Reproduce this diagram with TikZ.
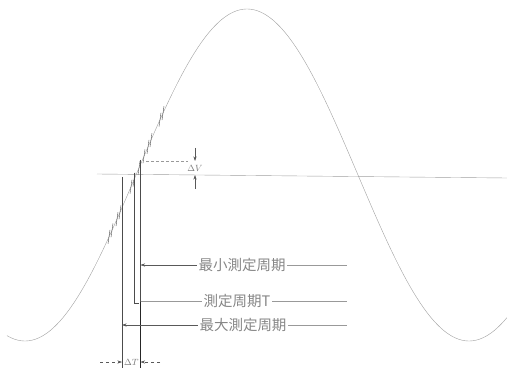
\documentclass[tikz,border=0pt]{standalone}
\usepackage{fontspec}
\newfontfamily\jpfont{Noto Sans CJK JP}
\usetikzlibrary{arrows.meta}
\tikzset{
  wave/.style={gray!75,thin},                                  % measured signal
  zeroln/.style={gray!75,thin},                                % zero level
  vline/.style={black!70,semithick},                           % period marks
  lead/.style={gray!80,thin},
  leadarr/.style={-{Stealth[length=4.5pt,width=3pt]},gray!70!black,thin},
  hatch/.style={black!70,thin},
  lbl/.style={text=gray!95,font=\jpfont\fontsize{14.5}{16}\selectfont,inner sep=1.5pt},
  dimlbl/.style={text=gray!95!black,font=\fontsize{9.5}{10}\selectfont,inner sep=0.5pt},
}

\begin{document}
\begin{tikzpicture}[x=1pt,y=-1pt,declare function={wv(\t)=175-166*sin(0.810811*(\t-136));}]
  \useasboundingbox (0,0) rectangle (507,369);
  % signal and zero line
  \draw[wave] plot[domain=7:507,samples=250] (\x,{wv(\x)});
  \coordinate (zeroL) at (97,174); \coordinate (zeroR) at (507,178);
  \draw[zeroln] (zeroL) -- (zeroR);
  \foreach \t in {109,112,117,120,131,134,139,144,148,151,160,163}
    \draw[hatch] (\t-1,{wv(\t)+7}) -- (\t+1,{wv(\t)-7});
  % period marks
  \coordinate (maxT) at (122,177);   \coordinate (maxB) at (122,368);
  \coordinate (tT) at (134.5,173);   \coordinate (tB) at (134.5,303);
  \coordinate (minT) at (140.5,160); \coordinate (minB) at (140.5,368);
  \draw[vline] (maxT) -- (maxB);
  \draw[vline] (tT) -- (tB) -- ++(4,0);
  \draw[vline] (minT) -- (minB);
  \draw[black!85,thick] (140.5,302) -- (minB);
  % labels
  \node[lbl] (lblMin) at (242,265) {最小測定周期};
  \node[lbl] (lblT) at (237,301) {測定周期T};
  \node[lbl] (lblMax) at (243,325) {最大測定周期};
  \coordinate (eMin) at (347,265); \coordinate (eT) at (347,301); \coordinate (eMax) at (347,325);
  \draw[leadarr] (lblMin.west) -- (lblMin.west -| minT);
  \draw[lead] (lblMin.east) -- (eMin);
  \draw[lead] (lblT.west) -- (lblT.west -| minT);
  \draw[lead] (lblT.east) -- (eT);
  \draw[leadarr] (lblMax.west) -- (lblMax.west -| maxT);
  \draw[lead] (lblMax.east) -- (eMax);
  % delta T
  \node[dimlbl] (lblDT) at (131.3,362) {$\Delta T$};
  \coordinate (dtL) at (100,362); \coordinate (dtR) at (160,362);
  \draw[leadarr,dashed] (dtL) -- (dtL -| maxB);
  \draw[leadarr,dashed] (dtR) -- (dtR -| minB);
  % delta V
  \node[dimlbl] (lblDV) at (195,168) {$\Delta V$};
  \coordinate (dvLine) at (146,161); \coordinate (dvEnd) at (188,161);
  \coordinate (dvTop) at (195,148); \coordinate (dvBot) at (195,189);
  \draw[lead,densely dashed] (dvLine) -- (dvEnd);
  \draw[leadarr] (dvTop) -- (dvTop |- dvLine);
  \draw[leadarr] (dvBot) -- (195,175);
\end{tikzpicture}
\end{document}
